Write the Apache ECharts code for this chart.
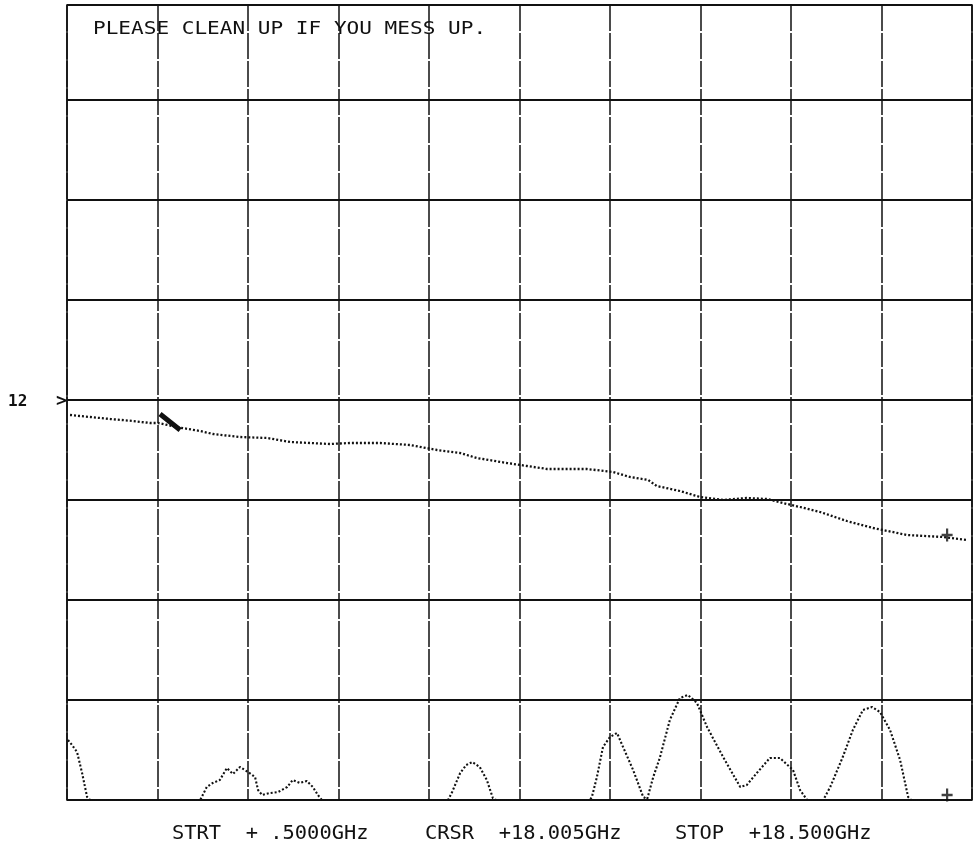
<!DOCTYPE html>
<html>
<head>
<meta charset="utf-8">
<script src="https://cdn.jsdelivr.net/npm/echarts@6/dist/echarts.min.js"></script>
<style>
  html, body { margin: 0; padding: 0; background: #ffffff; }
  #chart { width: 974px; height: 849px; }
</style>
</head>
<body>
<div id="chart"></div>
<script>
// Sweep settings (GHz)
const START_GHZ = 0.5;
const STOP_GHZ = 18.5;
const CURSOR_GHZ = 18.005;
const DIVISIONS_X = 10;

// Annotation texts
const TITLE_TEXT = "PLEASE CLEAN UP IF YOU MESS UP.";
const REF_LABEL = "12";
const REF_ARROW = ">";
const FOOTER_LABELS = ["STRT  + .5000GHz", "CRSR  +18.005GHz", "STOP  +18.500GHz"];

// Trace 1: [frequency GHz, level in graticule divisions above bottom]
const trace1 = [
  [0.56, 3.85], [0.96, 3.83], [1.36, 3.81], [1.81, 3.79], [2.15, 3.77], [2.31, 3.77],
  [2.79, 3.72], [3.15, 3.69], [3.40, 3.66], [3.94, 3.63], [4.48, 3.62], [4.94, 3.58],
  [5.73, 3.56], [6.13, 3.57], [6.73, 3.57], [7.32, 3.55], [7.86, 3.50], [8.32, 3.47],
  [8.65, 3.42], [9.25, 3.37], [9.65, 3.34], [10.05, 3.31], [10.84, 3.31], [11.36, 3.28],
  [11.70, 3.23], [12.06, 3.20], [12.23, 3.14], [12.69, 3.09], [13.09, 3.03], [13.55, 3.00],
  [14.02, 3.02], [14.42, 3.01], [14.74, 2.97], [15.08, 2.93], [15.48, 2.88], [16.01, 2.79],
  [16.53, 2.72], [17.21, 2.65], [17.92, 2.63], [18.40, 2.60]
];
// Dense (bold) stretch of trace 1 near 2.5 GHz
const trace1Bold = [[2.35, 3.86], [2.55, 3.78], [2.75, 3.70]];

// Trace 2: [frequency GHz, level in divisions]
const trace2 = [
  [0.52, 0.60], [0.60, 0.55], [0.70, 0.48], [0.80, 0.27], [0.90, 0.03], [0.96, 0.00],
  [3.15, 0.00], [3.20, 0.05], [3.28, 0.13], [3.40, 0.17], [3.54, 0.20], [3.68, 0.32],
  [3.80, 0.26], [3.94, 0.33], [4.10, 0.28], [4.24, 0.23], [4.30, 0.10], [4.38, 0.05],
  [4.54, 0.07], [4.70, 0.08], [4.88, 0.13], [4.99, 0.20], [5.13, 0.17], [5.27, 0.19],
  [5.39, 0.13], [5.49, 0.05], [5.57, 0.00],
  [8.08, 0.00], [8.16, 0.08], [8.32, 0.27], [8.44, 0.35], [8.56, 0.38], [8.71, 0.33],
  [8.85, 0.20], [8.97, 0.02], [9.03, 0.00],
  [10.90, 0.00], [10.94, 0.03], [11.04, 0.23], [11.16, 0.53], [11.30, 0.63], [11.44, 0.67],
  [11.56, 0.53], [11.76, 0.30], [11.96, 0.03], [12.04, 0.01], [12.16, 0.23], [12.29, 0.42],
  [12.49, 0.80], [12.69, 1.02], [12.85, 1.05], [13.03, 0.97], [13.23, 0.73], [13.55, 0.43],
  [13.89, 0.13], [14.02, 0.15], [14.22, 0.27], [14.48, 0.42], [14.68, 0.42], [14.94, 0.30],
  [15.08, 0.10], [15.22, 0.00], [15.54, 0.00], [15.68, 0.13], [15.93, 0.43], [16.13, 0.70],
  [16.33, 0.90], [16.51, 0.93], [16.67, 0.88], [16.87, 0.70], [17.07, 0.40], [17.23, 0.03],
  [17.29, 0.00], [18.50, 0.00]
];

// Cursor readouts (level in divisions) on each trace at CURSOR_GHZ
const cursorLevels = [2.65, 0.05];

// x axis is drawn as offset from the start frequency so ticks align with the graticule
const span = STOP_GHZ - START_GHZ;
const toAxis = p => [p[0] - START_GHZ, p[1]];

const INK = '#111111';
const plusPath = 'path://M4,0H6V4H10V6H6V10H4V6H0V4H4Z';

const chart = echarts.init(document.getElementById('chart'), null, { renderer: 'canvas' });
chart.setOption({
  backgroundColor: '#ffffff',
  animation: false,
  grid: {
    left: 67, right: 2, top: 5, bottom: 49,
    show: true, borderColor: INK, borderWidth: 1.6, backgroundColor: 'transparent'
  },
  xAxis: {
    type: 'value', min: 0, max: span, interval: span / DIVISIONS_X,
    axisLine: { show: false }, axisTick: { show: false }, axisLabel: { show: false },
    splitLine: { show: true, lineStyle: { color: INK, width: 1.5, type: [26, 2] } }
  },
  yAxis: {
    type: 'value', min: 0, max: 7.95, interval: 1,
    axisLine: { show: false }, axisTick: { show: false }, axisLabel: { show: false },
    splitLine: { show: true, lineStyle: { color: INK, width: 1.9 } }
  },
  series: [
    {
      type: 'line', name: 'Trace 1', data: trace1.map(toAxis), symbol: 'none',
      lineStyle: { color: INK, width: 2.3, type: [2, 2] }, z: 5
    },
    {
      type: 'line', name: 'Trace 1 dense', data: trace1Bold.map(toAxis), symbol: 'none',
      lineStyle: { color: INK, width: 5 }, z: 5
    },
    {
      type: 'line', name: 'Trace 2', data: trace2.map(toAxis), symbol: 'none',
      lineStyle: { color: INK, width: 2.1, type: [2, 2] }, z: 5
    },
    {
      type: 'scatter', name: 'Cursor',
      data: cursorLevels.map(v => [CURSOR_GHZ - START_GHZ, v]),
      symbol: plusPath, symbolSize: [11, 13],
      itemStyle: { color: INK }, z: 6
    }
  ],
  graphic: [
    {
      type: 'text', x: 93, y: 29, scaleX: 1.17,
      style: {
        text: TITLE_TEXT, fontFamily: 'DejaVu Sans Mono', fontSize: 18, fill: INK,
        textAlign: 'left', textVerticalAlign: 'middle', align: 'left', verticalAlign: 'middle'
      }
    },
    {
      type: 'text', x: 8, y: 402,
      style: {
        text: REF_LABEL, fontFamily: 'DejaVu Sans Mono', fontSize: 16, fontWeight: 'bold', fill: INK,
        textAlign: 'left', textVerticalAlign: 'middle', align: 'left', verticalAlign: 'middle'
      }
    },
    {
      type: 'text', x: 56, y: 401,
      style: {
        text: REF_ARROW, fontFamily: 'DejaVu Sans Mono', fontSize: 18, fontWeight: 'bold', fill: INK,
        textAlign: 'left', textVerticalAlign: 'middle', align: 'left', verticalAlign: 'middle'
      }
    },
    ...FOOTER_LABELS.map((t, i) => ({
      type: 'text', x: [172, 425, 675][i], y: 834, scaleX: 1.02,
      style: {
        text: t, fontFamily: 'DejaVu Sans Mono', fontSize: 20, fill: INK,
        textAlign: 'left', textVerticalAlign: 'middle', align: 'left', verticalAlign: 'middle'
      }
    }))
  ]
});
</script>
</body>
</html>
